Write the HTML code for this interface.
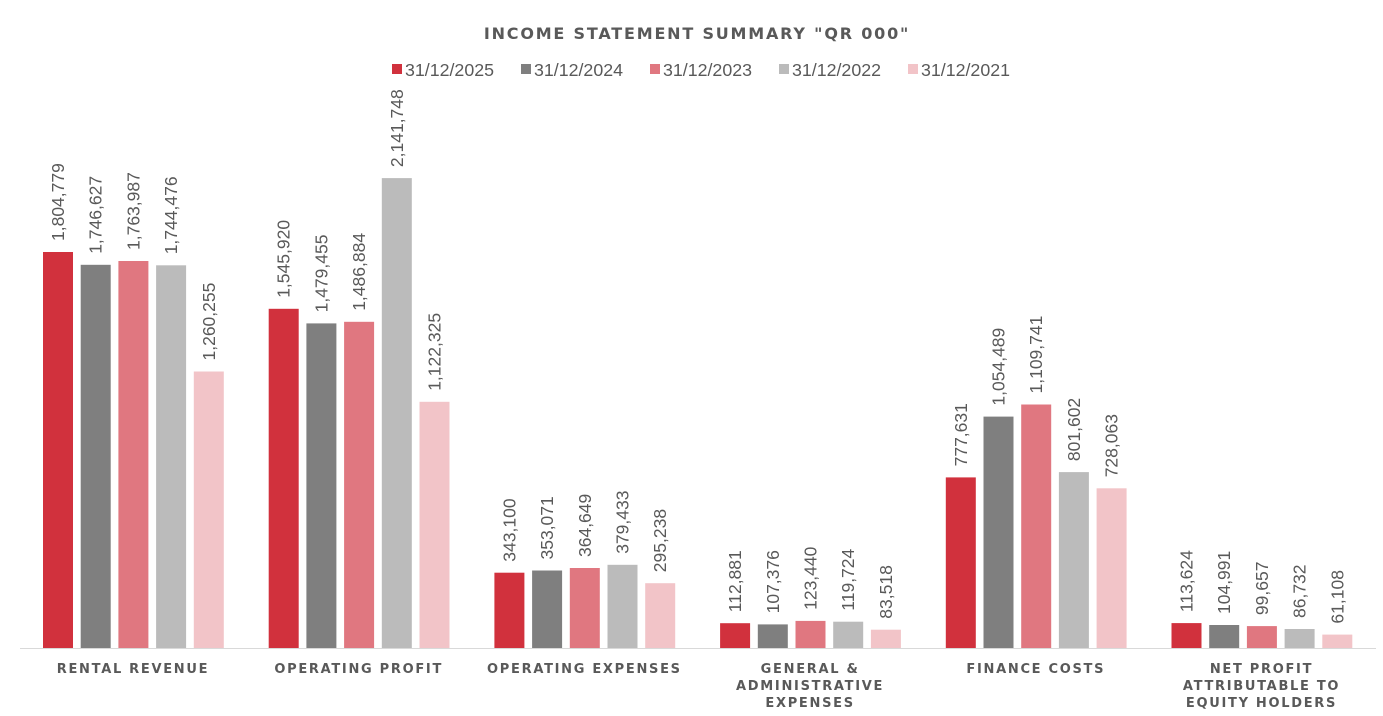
<!DOCTYPE html>
<html><head><meta charset="utf-8"><style>
html,body{margin:0;padding:0;background:#fff;}
svg{display:block;font-family:"Liberation Sans",sans-serif;}
.v{font-size:17.5px;fill:#595959;}
.c{font-family:"DejaVu Sans",sans-serif;font-size:13px;font-weight:bold;fill:#595959;letter-spacing:1.7px;text-anchor:middle;}
.l{font-size:17.8px;fill:#595959;}
</style></head><body>
<svg width="1383" height="716" viewBox="0 0 1383 716">
<text x="697" y="39" text-anchor="middle" style="font-family:'DejaVu Sans',sans-serif;font-size:16px;font-weight:bold;fill:#595959;letter-spacing:1.8px">INCOME STATEMENT SUMMARY "QR 000"</text>
<rect x="392" y="64" width="10" height="10" fill="#D1313D"/><text class="l" x="405" y="76">31/12/2025</text>
<rect x="521" y="64" width="10" height="10" fill="#7F7F7F"/><text class="l" x="534" y="76">31/12/2024</text>
<rect x="650" y="64" width="10" height="10" fill="#E07780"/><text class="l" x="663" y="76">31/12/2023</text>
<rect x="779" y="64" width="10" height="10" fill="#BBBBBB"/><text class="l" x="792" y="76">31/12/2022</text>
<rect x="908" y="64" width="10" height="10" fill="#F2C4C8"/><text class="l" x="921" y="76">31/12/2021</text>

<g>
<rect x="43" y="252" width="30" height="396" fill="#D1313D"/>
<rect x="80.7" y="264.8" width="30" height="383.2" fill="#7F7F7F"/>
<rect x="118.4" y="261" width="30" height="387" fill="#E07780"/>
<rect x="156.1" y="265.3" width="30" height="382.7" fill="#BBBBBB"/>
<rect x="193.8" y="371.5" width="30" height="276.5" fill="#F2C4C8"/>
<rect x="268.7" y="308.8" width="30" height="339.2" fill="#D1313D"/>
<rect x="306.4" y="323.4" width="30" height="324.6" fill="#7F7F7F"/>
<rect x="344.1" y="321.8" width="30" height="326.2" fill="#E07780"/>
<rect x="381.8" y="178.1" width="30" height="469.9" fill="#BBBBBB"/>
<rect x="419.5" y="401.8" width="30" height="246.2" fill="#F2C4C8"/>
<rect x="494.4" y="572.7" width="30" height="75.3" fill="#D1313D"/>
<rect x="532.1" y="570.5" width="30" height="77.5" fill="#7F7F7F"/>
<rect x="569.8" y="568" width="30" height="80" fill="#E07780"/>
<rect x="607.5" y="564.8" width="30" height="83.2" fill="#BBBBBB"/>
<rect x="645.2" y="583.2" width="30" height="64.8" fill="#F2C4C8"/>
<rect x="720.1" y="623.2" width="30" height="24.8" fill="#D1313D"/>
<rect x="757.8" y="624.4" width="30" height="23.6" fill="#7F7F7F"/>
<rect x="795.5" y="620.9" width="30" height="27.1" fill="#E07780"/>
<rect x="833.2" y="621.7" width="30" height="26.3" fill="#BBBBBB"/>
<rect x="870.9" y="629.7" width="30" height="18.3" fill="#F2C4C8"/>
<rect x="945.8" y="477.4" width="30" height="170.6" fill="#D1313D"/>
<rect x="983.5" y="416.6" width="30" height="231.4" fill="#7F7F7F"/>
<rect x="1021.2" y="404.5" width="30" height="243.5" fill="#E07780"/>
<rect x="1058.9" y="472.1" width="30" height="175.9" fill="#BBBBBB"/>
<rect x="1096.6" y="488.3" width="30" height="159.7" fill="#F2C4C8"/>
<rect x="1171.5" y="623.1" width="30" height="24.9" fill="#D1313D"/>
<rect x="1209.2" y="625" width="30" height="23" fill="#7F7F7F"/>
<rect x="1246.9" y="626.1" width="30" height="21.9" fill="#E07780"/>
<rect x="1284.6" y="629" width="30" height="19" fill="#BBBBBB"/>
<rect x="1322.3" y="634.6" width="30" height="13.4" fill="#F2C4C8"/>
</g>
<line x1="20" y1="648.5" x2="1376" y2="648.5" stroke="#D9D9D9" stroke-width="1"/>

<g class="v">
<text transform="translate(64,241) rotate(-90)">1,804,779</text>
<text transform="translate(101.7,253.8) rotate(-90)">1,746,627</text>
<text transform="translate(139.4,250) rotate(-90)">1,763,987</text>
<text transform="translate(177.1,254.3) rotate(-90)">1,744,476</text>
<text transform="translate(214.8,360.5) rotate(-90)">1,260,255</text>
<text transform="translate(289.7,297.8) rotate(-90)">1,545,920</text>
<text transform="translate(327.4,312.4) rotate(-90)">1,479,455</text>
<text transform="translate(365.1,310.8) rotate(-90)">1,486,884</text>
<text transform="translate(402.8,167.1) rotate(-90)">2,141,748</text>
<text transform="translate(440.5,390.8) rotate(-90)">1,122,325</text>
<text transform="translate(515.4,561.7) rotate(-90)">343,100</text>
<text transform="translate(553.1,559.5) rotate(-90)">353,071</text>
<text transform="translate(590.8,557) rotate(-90)">364,649</text>
<text transform="translate(628.5,553.8) rotate(-90)">379,433</text>
<text transform="translate(666.2,572.2) rotate(-90)">295,238</text>
<text transform="translate(741.1,612.2) rotate(-90)">112,881</text>
<text transform="translate(778.8,613.4) rotate(-90)">107,376</text>
<text transform="translate(816.5,609.9) rotate(-90)">123,440</text>
<text transform="translate(854.2,610.7) rotate(-90)">119,724</text>
<text transform="translate(891.9,618.7) rotate(-90)">83,518</text>
<text transform="translate(966.8,466.4) rotate(-90)">777,631</text>
<text transform="translate(1004.5,405.6) rotate(-90)">1,054,489</text>
<text transform="translate(1042.2,393.5) rotate(-90)">1,109,741</text>
<text transform="translate(1079.9,461.1) rotate(-90)">801,602</text>
<text transform="translate(1117.6,477.3) rotate(-90)">728,063</text>
<text transform="translate(1192.5,612.1) rotate(-90)">113,624</text>
<text transform="translate(1230.2,614) rotate(-90)">104,991</text>
<text transform="translate(1267.9,615.1) rotate(-90)">99,657</text>
<text transform="translate(1305.6,618) rotate(-90)">86,732</text>
<text transform="translate(1343.3,623.6) rotate(-90)">61,108</text>
</g>

<g class="c">
<text x="133" y="673">RENTAL REVENUE</text>
<text x="358.7" y="673">OPERATING PROFIT</text>
<text x="584.4" y="673">OPERATING EXPENSES</text>
<text x="810.1" y="673">GENERAL &amp;</text>
<text x="810.1" y="690">ADMINISTRATIVE</text>
<text x="810.1" y="707">EXPENSES</text>
<text x="1035.8" y="673">FINANCE COSTS</text>
<text x="1261.5" y="673">NET PROFIT</text>
<text x="1261.5" y="690">ATTRIBUTABLE TO</text>
<text x="1261.5" y="707">EQUITY HOLDERS</text>
</g>
</svg>
</body></html>
